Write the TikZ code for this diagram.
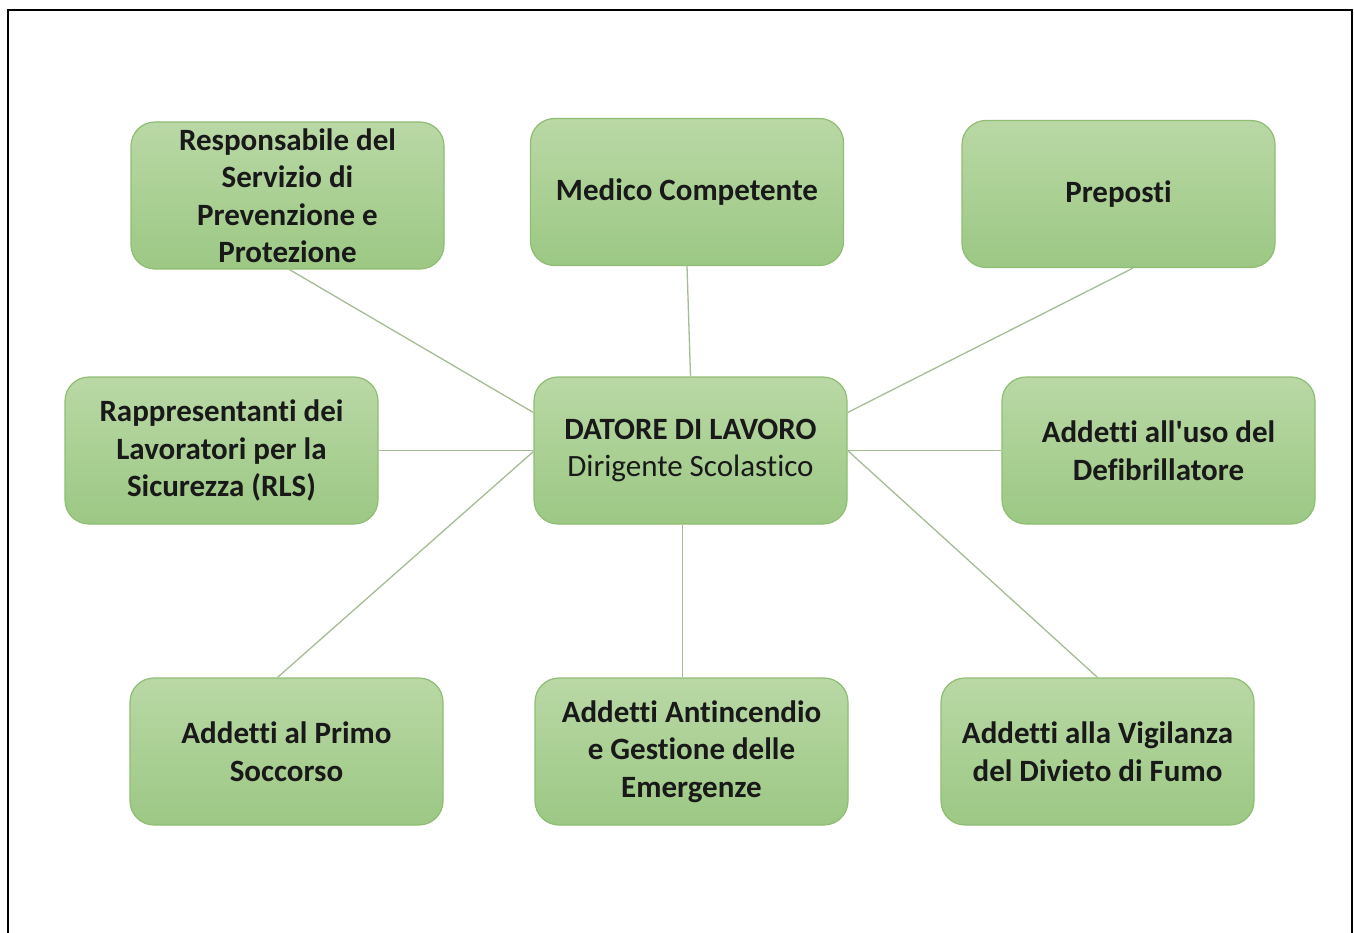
\documentclass[tikz,border=0pt]{standalone}
\usepackage{fontspec}
\setmainfont[Ligatures={CommonOff,TeXOff}]{Carlito}
\definecolor{boxtop}{HTML}{B9D8A5}
\definecolor{boxbot}{HTML}{9CC884}
\definecolor{boxline}{HTML}{8FBD74}
\definecolor{linkcol}{HTML}{A6BC95}
\tikzset{
  rolebox/.style={draw=boxline, line width=1.2pt, rounded corners=24pt,
    top color=boxtop, bottom color=boxbot,
    minimum width=313pt, minimum height=147pt, inner sep=0pt,
    align=center, text=black!90,
    font=\fontsize{31}{37.5}\selectfont\bfseries},
  link/.style={draw=linkcol, line width=1.3pt}
}
\begin{document}
\begin{tikzpicture}[x=1pt,y=-1pt]
\useasboundingbox (0,0) rectangle (1354,933);
\fill[white] (0,0) rectangle (1354,933);
\draw[line width=2.6pt, black] (8,940) -- (8,10) -- (1352,10) -- (1352,940);

\node[rolebox] (rspp) at (287.5,195.5) {Responsabile del\\Servizio di\\Prevenzione e\\Protezione};
\node[rolebox] (med) at (687,192) {Medico Competente};
\node[rolebox] (prep) at (1118.5,194) {Preposti};
\node[rolebox] (rls) at (221.5,450.5) {Rappresentanti dei\\Lavoratori per la\\Sicurezza (RLS)};
\node[rolebox] (dat) at (690.5,450.5) {DATORE DI LAVORO\\\mdseries Dirigente Scolastico};
\node[rolebox] (def) at (1158.5,450.5) {Addetti all'uso del\\Defibrillatore};
\node[rolebox] (primo) at (286.5,751.5) {Addetti al Primo\\Soccorso};
\node[rolebox] (ant) at (691.5,751.5) {Addetti Antincendio\\e Gestione delle\\Emergenze};
\node[rolebox] (vig) at (1097.5,751.5) {Addetti alla Vigilanza\\del Divieto di Fumo};

\draw[link] ([xshift=2pt]rspp.south) -- ([yshift=38pt]dat.west);
\draw[link] (med.south) -- (dat.north);
\draw[link] ([xshift=14.5pt]prep.south) -- ([yshift=38pt]dat.east);
\draw[link] (rls.east) -- (dat.west);
\draw[link] (def.west) -- (dat.east);
\draw[link] ([xshift=-9pt]primo.north) -- ([yshift=-1pt]dat.west);
\draw[link] ([xshift=-8pt]dat.south) -- ([xshift=-8pt]dat.south |- ant.north);
\draw[link] (vig.north) -- ([yshift=0pt]dat.east);
\end{tikzpicture}
\end{document}
